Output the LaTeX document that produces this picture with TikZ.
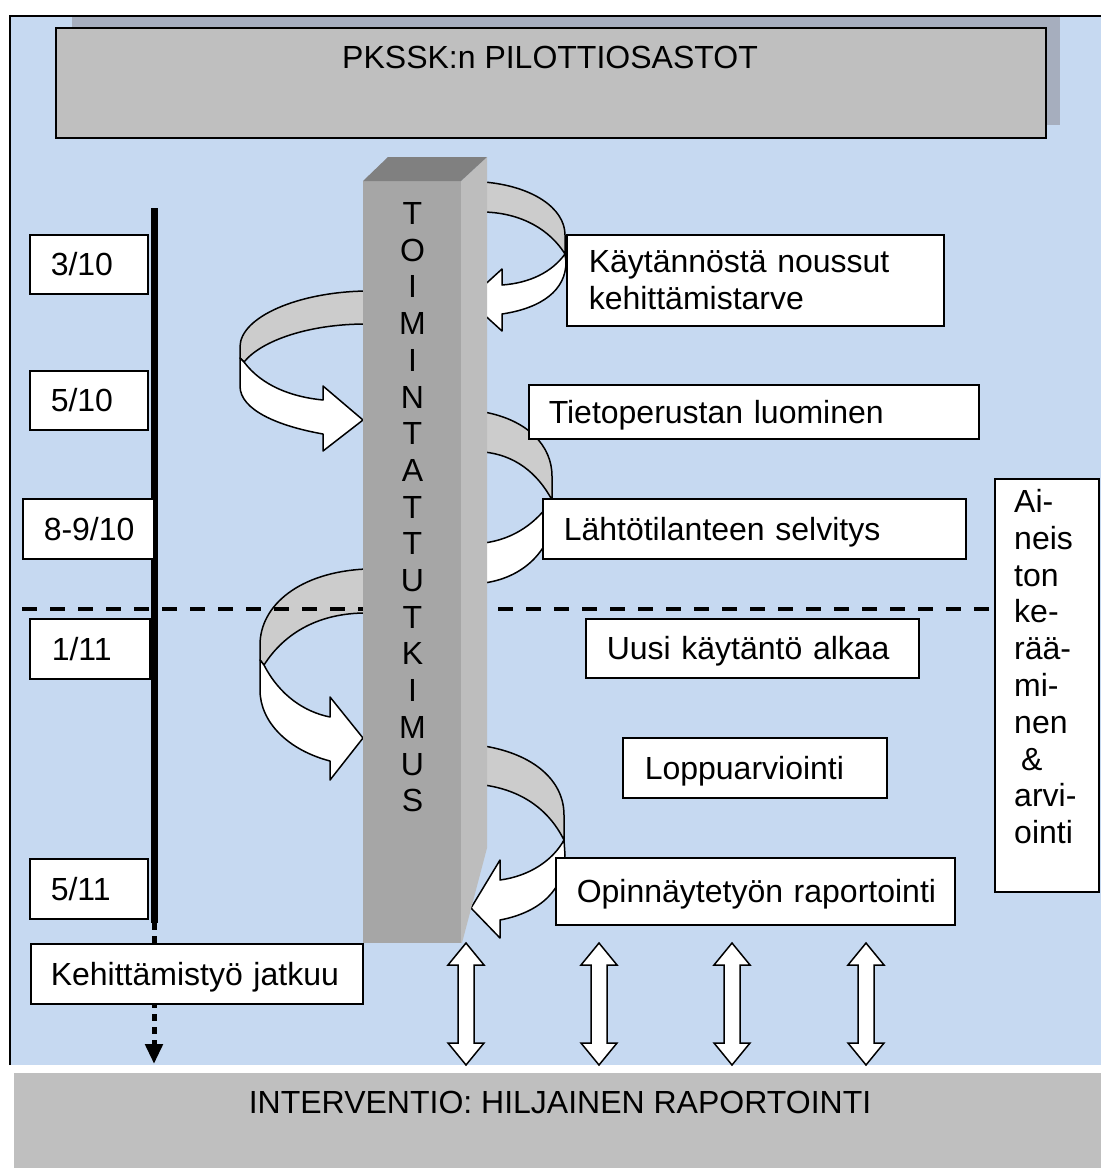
\documentclass[tikz,border=0pt]{standalone}
\usepackage{fontspec}
\setmainfont{Liberation Sans}
\usetikzlibrary{arrows.meta}
\definecolor{bgblue}{HTML}{C6D9F1}
\definecolor{boxgray}{HTML}{BFBFBF}
\definecolor{shadowc}{HTML}{A6AEBE}
\definecolor{ribgray}{HTML}{CCCCCC}
\definecolor{colfront}{HTML}{A6A6A6}
\definecolor{colside}{HTML}{BDBDBD}
\definecolor{coltop}{HTML}{808080}
\tikzset{
  txt/.style={font=\fontsize{32}{36.8}\selectfont},
  lbox/.style={draw=black, line width=1.5pt, fill=white, anchor=north west,
    align=left, txt, inner ysep=0pt},
  onel/.style={text height=23pt, text depth=0pt},
  ribbon/.style={draw=black, line width=1.5pt, line join=round},
  dblarrow/.style={draw=black, line width=1.5pt, fill=white, line join=miter},
}
\begin{document}
\begin{tikzpicture}[x=1pt,y=-1pt]
\useasboundingbox (0,0) rectangle (1101,1171);
\fill[white] (0,0) rectangle (1101,1171);
% background panel
\fill[bgblue] (10,16) rectangle (1101,1065);
\fill[shadowc] (72,16) rectangle (1060,125);
\draw[line width=1.5pt] (10,1065) -- (10,16) -- (1101,16);
% top box
\node[draw=black, line width=1.5pt, fill=boxgray, anchor=north west,
  minimum width=990pt, minimum height=110pt, inner sep=0pt] (pkssk) at (55,27) {};
\node[txt, onel] (pkssktxt) at (550,57) {PKSSK:n PILOTTIOSASTOT};
% bottom band
\node[fill=boxgray, anchor=north west, minimum width=1087pt, minimum height=95pt,
  inner sep=0pt] (interv) at (14,1073) {};
\node[txt, onel] (intervtxt) at (560,1102) {INTERVENTIO: HILJAINEN RAPORTOINTI};
% ribbons
% 1 right top
\draw[ribbon, fill=ribgray] (484,182) .. controls (532,186) and (565,208) .. (565,235)
  -- (565,254) .. controls (550,230) and (522,213) .. (484,212) -- cycle;
\draw[ribbon, fill=white] (565,254) .. controls (552,272) and (530,283) .. (502,285)
  -- (502,269) -- (468,300) -- (502,331) -- (502,314)
  .. controls (542,308) and (566,290) .. (566,262) -- cycle;
% A left
\draw[ribbon, fill=ribgray] (366,291) .. controls (298,292) and (240,317) .. (240,347)
  -- (240,358) -- (244,362) .. controls (262,340) and (310,324) .. (366,324) -- cycle;
\draw[ribbon, fill=white] (244,362) .. controls (262,386) and (292,397) .. (323,400)
  -- (323,386) -- (363,420) -- (323,451) -- (323,434)
  .. controls (278,426) and (240,410) .. (240,386) -- (240,358) -- cycle;
% B right middle
\draw[ribbon, fill=ribgray] (484,412) .. controls (528,420) and (552,446) .. (552,476)
  -- (552,500) .. controls (537,472) and (514,455) .. (484,452) -- cycle;
\draw[ribbon, fill=white] (552,500) .. controls (537,522) and (515,539) .. (484,543)
  -- (484,583) .. controls (528,577) and (554,545) .. (554,510) -- cycle;
% C left lower
\draw[ribbon, fill=ribgray] (366,569) .. controls (300,572) and (260,605) .. (260,645)
  -- (260,660) -- (264,665) .. controls (285,632) and (320,613) .. (366,613) -- cycle;
\draw[ribbon, fill=white] (264,665) .. controls (280,696) and (305,712) .. (330,717)
  -- (330,697) -- (363,738) -- (330,780) -- (330,761)
  .. controls (288,750) and (260,722) .. (260,690) -- (260,660) -- cycle;
% D right bottom
\draw[ribbon, fill=ribgray] (484,746) .. controls (533,754) and (564,780) .. (564,815)
  -- (564,840) .. controls (548,808) and (520,790) .. (484,785) -- cycle;
\draw[ribbon, fill=white] (564,840) .. controls (553,860) and (530,876) .. (500,880)
  -- (500,860) -- (471,908) -- (500,938) -- (500,920)
  .. controls (542,912) and (565,888) .. (565,855) -- cycle;
% dashed divider
\coordinate (dl0) at (22,609);
\coordinate (dl1) at (994,609);
\draw[line width=4pt, dash pattern=on 15pt off 13pt] (dl0) -- (dl1);
% column
\fill[colfront] (363,181) rectangle (461,943);
\fill[colside] (461,181) -- (487,157) -- (487,848) -- (462,943) -- (461,943) -- cycle;
\fill[coltop] (363,181) -- (388,157) -- (487,157) -- (461,181) -- cycle;
\foreach \l [count=\i from 0] in {T,O,I,M,I,N,T,A,T,T,U,T,K,I,M,U,S}
  \node[txt, onel, inner sep=0pt] (col\i) at (412.5,{213+36.7*\i}) {\l};
% timeline
\coordinate (tl0) at (154,208);
\coordinate (tl1) at (154,923);
\coordinate (tl2) at (154,1064);
\draw[line width=7pt] (tl0) -- (tl1);
\draw[line width=5pt, dash pattern=on 7pt off 6pt, -{Triangle[length=20pt,width=17pt]}] (tl1) -- (tl2);
% date boxes
\node[lbox, onel, minimum width=118pt, minimum height=59pt, text width=76pt, inner xsep=21pt] (d310) at (29,234) {\mbox{3/10}};
\node[lbox, onel, minimum width=118pt, minimum height=59pt, text width=76pt, inner xsep=21pt] (d510) at (29,370) {\mbox{5/10}};
\node[lbox, onel, minimum width=131pt, minimum height=60pt, text width=89pt, inner xsep=21pt] (d8910) at (22,498) {\mbox{8-9/10}};
\node[lbox, onel, minimum width=118pt, minimum height=60pt, text width=76pt, inner xsep=22pt] (d111) at (29,618) {\mbox{1/11}};
\node[lbox, onel, minimum width=118pt, minimum height=60pt, text width=76pt, inner xsep=21pt] (d511) at (29,858) {\mbox{5/11}};
\node[lbox, onel, minimum width=332pt, minimum height=60pt, text width=292pt, inner xsep=20pt] (kehit) at (30,943) {\mbox{Kehittämistyö jatkuu}};
% right boxes
\node[lbox, minimum width=377pt, minimum height=91pt, text width=333pt, inner xsep=22pt] (kaytan) at (566,234) {\mbox{Käytännöstä noussut}\\\mbox{kehittämistarve}};
\node[lbox, onel, minimum width=450pt, minimum height=54pt, text width=410pt, inner xsep=20pt] (tieto) at (528,384) {\mbox{Tietoperustan luominen}};
\node[lbox, onel, minimum width=423pt, minimum height=60pt, text width=381pt, inner xsep=21pt] (lahto) at (542,498) {\mbox{Lähtötilanteen selvitys}};
\node[lbox, onel, minimum width=333pt, minimum height=59pt, text width=291pt, inner xsep=21pt] (uusi) at (585,618) {\mbox{Uusi käytäntö alkaa}};
\node[lbox, onel, minimum width=264pt, minimum height=60pt, text width=220pt, inner xsep=22pt] (loppu) at (622,737) {\mbox{Loppuarviointi}};
\node[lbox, onel, minimum width=399pt, minimum height=67pt, text width=357pt, inner xsep=21pt] (opinn) at (555,857) {\mbox{Opinnäytetyön raportointi}};
\node[draw=black, line width=1.5pt, fill=white, anchor=north west, minimum width=104pt,
  minimum height=413pt, inner sep=0pt] (aineisto) at (994,478) {};
\node[txt, anchor=north west, align=left, inner sep=0pt] (aineistotxt) at (1014,489)
  {Ai-\\neis\\ton\\ke-\\rää-\\mi-\\nen\\\hspace*{7pt}\&\\arvi-\\ointi};
% double arrows
\foreach \cx [count=\k] in {466,599,732,866} {
  \draw[dblarrow] (\cx,943) -- (\cx+18,965) -- (\cx+8,965) -- (\cx+8,1043) -- (\cx+18,1043)
    -- (\cx,1065) -- (\cx-18,1043) -- (\cx-8,1043) -- (\cx-8,965) -- (\cx-18,965) -- cycle;
}
\end{tikzpicture}
\end{document}
